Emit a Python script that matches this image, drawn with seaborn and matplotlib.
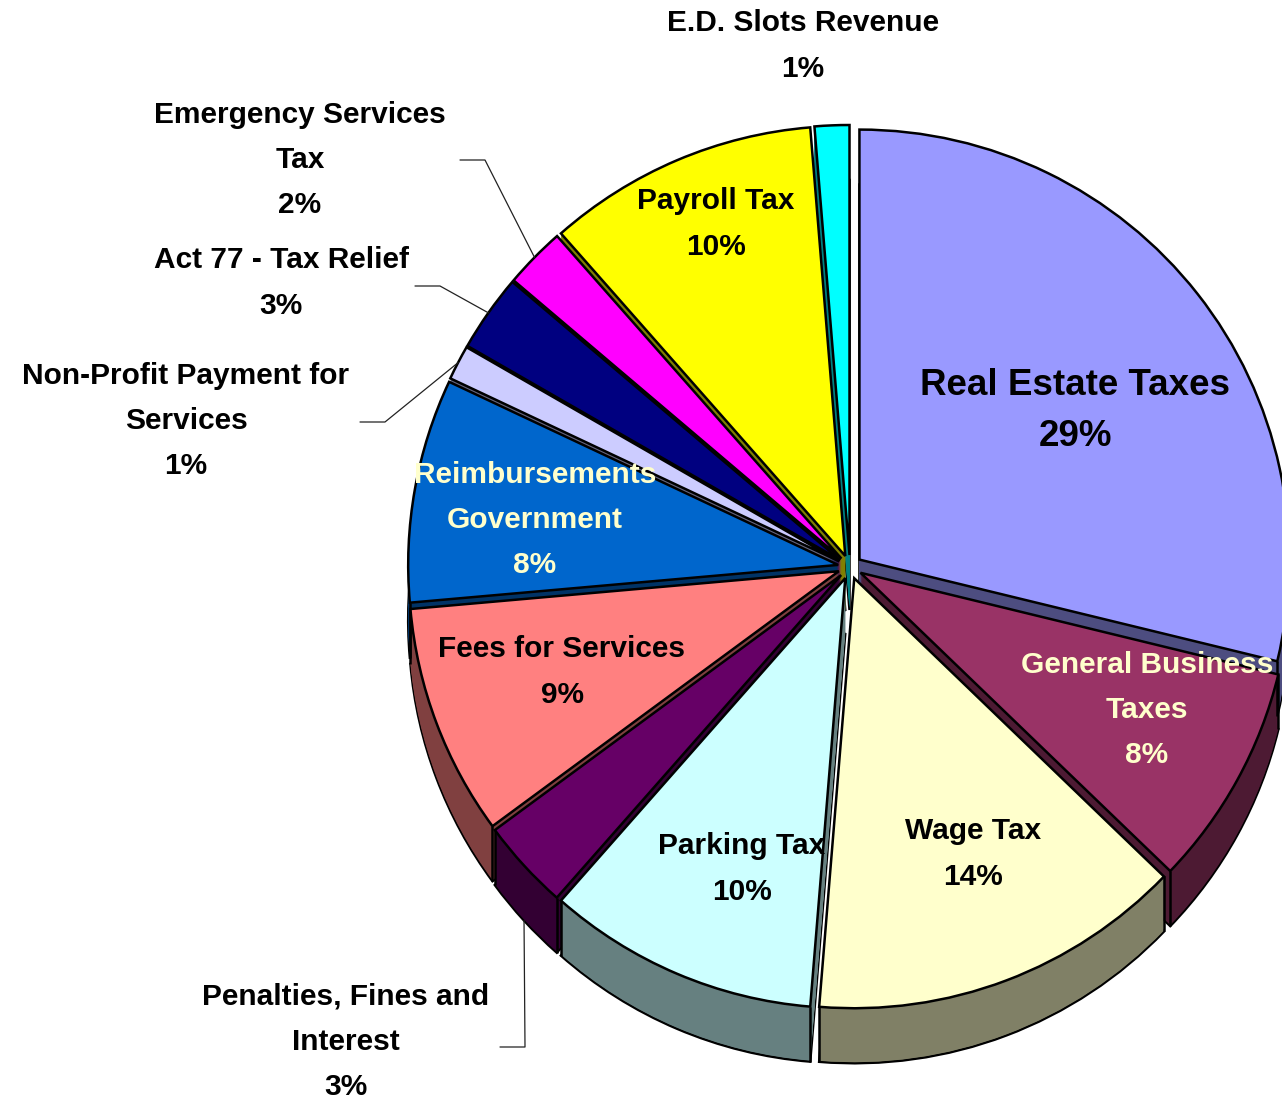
import matplotlib
matplotlib.use("Agg")
import matplotlib.pyplot as plt
import seaborn as sns
import numpy as np
from matplotlib.colors import to_rgb

# ---------------- data ----------------
categories = ["Real Estate Taxes", "General Business Taxes", "Wage Tax", "Parking Tax",
              "Penalties, Fines and Interest", "Fees for Services",
              "Reimbursements Government", "Non-Profit Payment for Services",
              "Act 77 - Tax Relief", "Emergency Services Tax", "Payroll Tax",
              "E.D. Slots Revenue"]
shares = [28.8, 8.4, 14.1, 10.2, 3.4, 8.7, 8.4, 1.3, 2.9, 2.3, 10.2, 1.3]
pct_labels = ["29%", "8%", "14%", "10%", "3%", "9%", "8%", "1%", "3%", "2%", "10%", "1%"]
label_text = ["Real Estate Taxes", "General Business\nTaxes", "Wage Tax", "Parking Tax",
              "Penalties, Fines and\nInterest", "Fees for Services",
              "Reimbursements\nGovernment", "Non-Profit Payment for\nServices",
              "Act 77 - Tax Relief", "Emergency Services\nTax", "Payroll Tax",
              "E.D. Slots Revenue"]
colors = ["#9999FF", "#993366", "#FFFFCC", "#CCFFFF", "#660066", "#FF8080",
          "#0066CC", "#CCCCFF", "#000080", "#FF00FF", "#FFFF00", "#00FFFF"]

# ---------------- style / layout ----------------
sns.set_theme(style="white")
plt.rcParams['font.family'] = ['Liberation Sans', 'DejaVu Sans']

W, H = 1282, 1102
CX, CY = 850, H - 567
R = 430
DEPTH = 55
EXPL = 12
LW = 1.8

side_colors = [tuple(0.5 * c for c in to_rgb(col)) for col in colors]

fig = plt.figure(figsize=(W / 100, H / 100), dpi=100)
ax = fig.add_axes([0, 0, 1, 1])

# side walls (extrusion)
for d in range(DEPTH, 0, -1):
    if d == DEPTH:
        wp = dict(edgecolor="black", linewidth=LW)
    else:
        wp = dict(linewidth=0)
    wedges_s, _ = ax.pie(shares, colors=side_colors, startangle=90, counterclock=False,
                         radius=R, center=(CX, CY - d), explode=[EXPL] * len(shares),
                         wedgeprops=wp, frame=True)
    for w in wedges_s:
        w.set_zorder(1)

# top faces
wedges, _ = ax.pie(shares, colors=colors, startangle=90, counterclock=False,
                   radius=R, center=(CX, CY), explode=[EXPL] * len(shares),
                   wedgeprops=dict(edgecolor="black", linewidth=LW), frame=True)
for w in wedges:
    w.set_zorder(3)

# vertical edges of side walls at front rim corners
for w in wedges:
    cx, cy = w.center
    for ang in (w.theta1, w.theta2):
        a = np.deg2rad(ang)
        if np.sin(a) < -0.02:
            x0 = cx + w.r * np.cos(a)
            y0 = cy + w.r * np.sin(a)
            ax.plot([x0, x0], [y0, y0 - DEPTH], color="black", lw=LW, zorder=2,
                    solid_capstyle="butt")

def rim_point(i, drop=0):
    w = wedges[i]
    a = np.deg2rad(0.5 * (w.theta1 + w.theta2))
    cx, cy = w.center
    return cx + w.r * np.cos(a), cy + w.r * np.sin(a) - drop

# label placement (pixel coordinates, y from top)
inside_pos = {0: (1075, 411), 1: (1147, 710), 2: (973, 854), 3: (742, 869),
              5: (562, 672), 6: (535, 520), 10: (716, 224)}
light_text = {1, 6}
outside_pos = {4: (346, 1042), 7: (186, 421), 8: (281, 283), 9: (300, 160), 11: (803, 46)}
elbows = {4: [(500, 1047), (525, 1047)], 7: [(360, 422), (385, 422)],
          8: [(415, 286), (440, 286)], 9: [(460, 160), (485, 160)]}

FS = 21.5
LS = 1.78
for i, (x, y) in inside_pos.items():
    fs = 26.5 if i == 0 else FS
    ls = 1.57 if i == 0 else LS
    ax.text(x, H - y, f"{label_text[i]}\n{pct_labels[i]}", ha="center", va="center",
            fontsize=fs, fontweight="bold", linespacing=ls,
            color="#FFFFCC" if i in light_text else "black", zorder=5)

for i, (x, y) in outside_pos.items():
    ax.text(x, H - y, f"{label_text[i]}\n{pct_labels[i]}", ha="center", va="center",
            fontsize=FS, fontweight="bold", linespacing=LS, color="black", zorder=5)

for i, pts in elbows.items():
    drop = DEPTH if i == 4 else 0
    rx, ry = rim_point(i, drop)
    xs = [p[0] for p in pts] + [rx]
    ys = [H - p[1] for p in pts] + [ry]
    ax.plot(xs, ys, color="#222222", lw=0.9, zorder=4)

ax.set_xlim(0, W)
ax.set_ylim(0, H)
ax.set_aspect("auto")
ax.axis("off")

fig.savefig("out.png", dpi=100, facecolor="white")
